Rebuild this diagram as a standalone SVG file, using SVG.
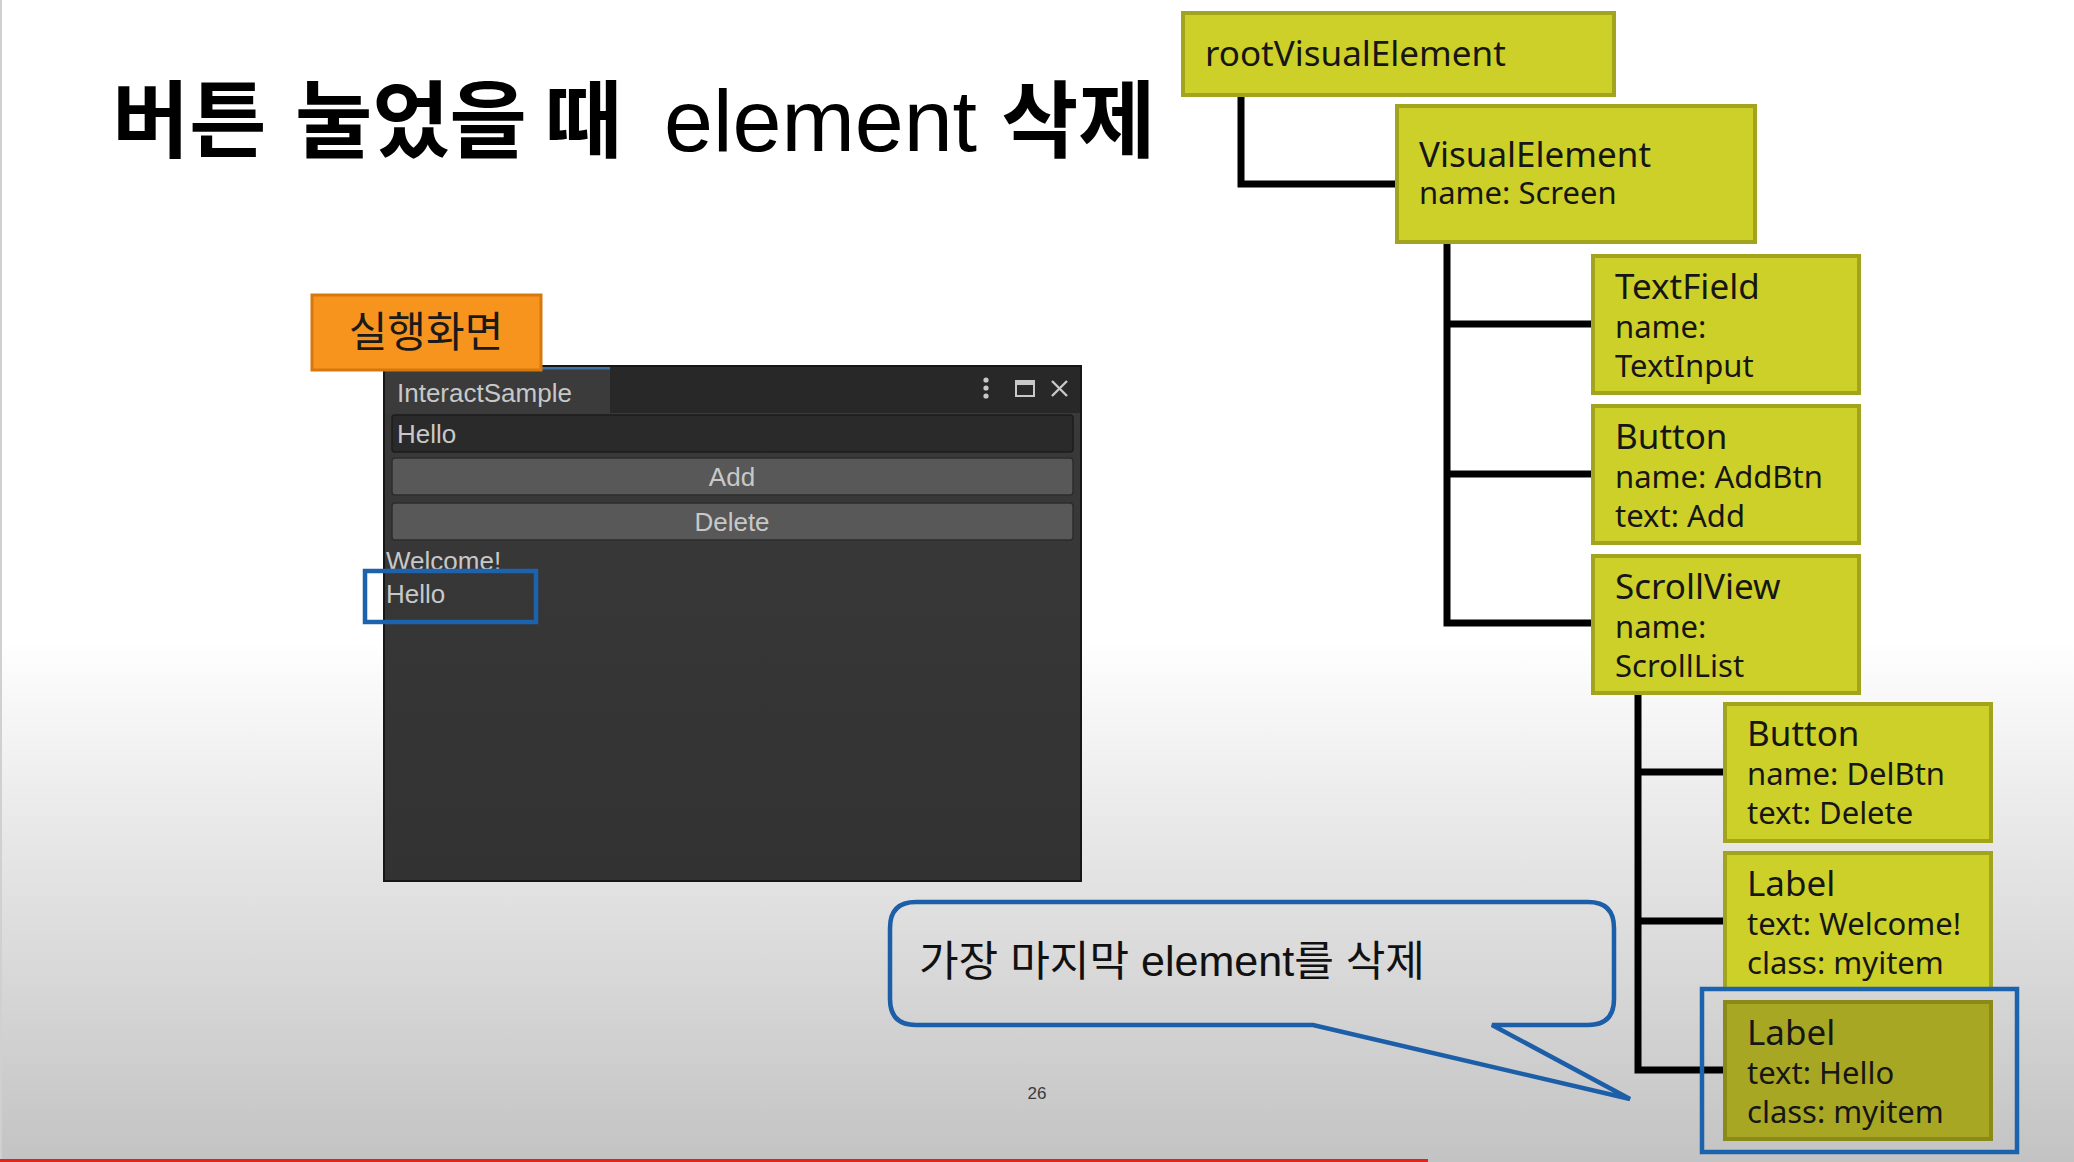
<svg xmlns="http://www.w3.org/2000/svg" width="2074" height="1162" viewBox="0 0 2074 1162">
  <defs>
    <linearGradient id="bg" x1="0" y1="0" x2="0" y2="1">
      <stop offset="0" stop-color="#ffffff"/>
      <stop offset="0.55" stop-color="#ffffff"/>
      <stop offset="0.7" stop-color="#eaeaea"/>
      <stop offset="1" stop-color="#c3c3c3"/>
    </linearGradient>
    <linearGradient id="winBody" x1="0" y1="0" x2="0" y2="1">
      <stop offset="0" stop-color="#3a3a3a"/>
      <stop offset="1" stop-color="#323232"/>
    </linearGradient>
    <style>
      .node rect { fill: #cdd028; stroke: #a1a41c; stroke-width: 4; }
      .node.selected rect { fill: #a8a724; stroke: #898a18; }
      .node text { font-family: "Noto Sans", "Liberation Sans", sans-serif; fill: #161616; }
      .node .head { font-size: 35px; }
      .node .sub { font-size: 31px; }
      .wire { fill: none; stroke: #000000; stroke-width: 7; stroke-linecap: square; stroke-linejoin: miter; }
      .hl { fill: none; stroke: #1c62ad; stroke-width: 4.5; }
      .ui { font-family: "Liberation Sans", Arial, sans-serif; font-size: 26px; fill: #c8c8c8; }
      .btn { fill: #585858; stroke: #2c2c2c; stroke-width: 1.5; }
      .ko { font-family: "Noto Sans CJK KR", sans-serif; }
    </style>
  </defs>

  <!-- slide background -->
  <rect x="0" y="0" width="2074" height="1162" fill="url(#bg)"/>
  <rect x="0" y="0" width="2" height="1162" fill="#cfcfd4"/>
  <rect x="0" y="1159" width="1428" height="3" fill="#e3221a"/>

  <!-- title, one word per text so spacing stays fixed -->
  <g id="title" fill="#000" font-size="84" font-weight="700">
    <text class="ko" x="112" y="151">버튼</text>
    <text class="ko" x="295" y="151">눌었을</text>
    <text class="ko" x="545" y="151">때</text>
    <text x="664" y="151" font-family="'Liberation Sans', Arial, sans-serif" font-weight="400" font-size="88">element</text>
    <text class="ko" x="1001" y="151">삭제</text>
  </g>

  <!-- runtime window -->
  <g id="window">
    <rect x="384" y="366" width="697" height="515" fill="url(#winBody)" stroke="#161616" stroke-width="2"/>
    <rect x="385" y="367" width="695" height="46" fill="#282828"/>
    <rect x="385" y="367" width="225" height="46" fill="#3b3b3b"/>
    <rect x="385" y="367" width="225" height="2.5" fill="#3d73a8"/>
    <text class="ui" x="397" y="402">InteractSample</text>
    <!-- window controls -->
    <g fill="#c8c8c8">
      <circle cx="986" cy="380" r="2.6"/>
      <circle cx="986" cy="388" r="2.6"/>
      <circle cx="986" cy="396" r="2.6"/>
    </g>
    <rect x="1016" y="381" width="18" height="15" fill="none" stroke="#c8c8c8" stroke-width="2"/>
    <rect x="1016" y="381" width="18" height="4" fill="#c8c8c8"/>
    <path d="M1052 381 L1067 396 M1067 381 L1052 396" stroke="#c8c8c8" stroke-width="2.4" fill="none"/>
    <!-- text field -->
    <rect x="392" y="415" width="681" height="37" rx="3" fill="#2a2a2a" stroke="#1c1c1c" stroke-width="1.5"/>
    <text class="ui" x="397" y="443">Hello</text>
    <!-- buttons -->
    <rect class="btn" x="392" y="458" width="681" height="37" rx="3"/>
    <text class="ui" x="732" y="486" text-anchor="middle">Add</text>
    <rect class="btn" x="392" y="503" width="681" height="37" rx="3"/>
    <text class="ui" x="732" y="531" text-anchor="middle">Delete</text>
    <!-- list items -->
    <text class="ui" x="386" y="570">Welcome!</text>
    <text class="ui" x="386" y="603">Hello</text>
  </g>

  <!-- caption tag -->
  <g id="tag">
    <rect x="312" y="295" width="229" height="75" fill="#f7941d" stroke="#d7780e" stroke-width="3"/>
    <text class="ko" x="426" y="347" text-anchor="middle" font-size="42" fill="#1a1a1a">실행화면</text>
  </g>

  <!-- highlight of the last list item -->
  <rect id="item-highlight" class="hl" x="365" y="571" width="171" height="51"/>

  <!-- tree connectors -->
  <g id="connectors">
    <path class="wire" d="M1241 95 V184 H1397"/>
    <path class="wire" d="M1447 242 V623 H1593 M1447 324 H1593 M1447 474 H1593"/>
    <path class="wire" d="M1638 693 V1070 H1725 M1638 772 H1725 M1638 921 H1725"/>
  </g>

  <!-- tree nodes -->
  <g id="node-root" class="node">
    <rect x="1183" y="13" width="431" height="82"/>
    <text class="head" x="1205" y="66">rootVisualElement</text>
  </g>
  <g id="node-screen" class="node">
    <rect x="1397" y="106" width="358" height="136"/>
    <text class="head" x="1419" y="167">VisualElement</text>
    <text class="sub" x="1419" y="204">name: Screen</text>
  </g>
  <g id="node-textfield" class="node">
    <rect x="1593" y="256" width="266" height="137"/>
    <text class="head" x="1615" y="299">TextField</text>
    <text class="sub" x="1615" y="338">name:</text>
    <text class="sub" x="1615" y="377">TextInput</text>
  </g>
  <g id="node-addbtn" class="node">
    <rect x="1593" y="406" width="266" height="137"/>
    <text class="head" x="1615" y="449">Button</text>
    <text class="sub" x="1615" y="488">name: AddBtn</text>
    <text class="sub" x="1615" y="527">text: Add</text>
  </g>
  <g id="node-scrollview" class="node">
    <rect x="1593" y="556" width="266" height="137"/>
    <text class="head" x="1615" y="599">ScrollView</text>
    <text class="sub" x="1615" y="638">name:</text>
    <text class="sub" x="1615" y="677">ScrollList</text>
  </g>
  <g id="node-delbtn" class="node">
    <rect x="1725" y="704" width="266" height="137"/>
    <text class="head" x="1747" y="746">Button</text>
    <text class="sub" x="1747" y="785">name: DelBtn</text>
    <text class="sub" x="1747" y="824">text: Delete</text>
  </g>
  <g id="node-label-welcome" class="node">
    <rect x="1725" y="853" width="266" height="136"/>
    <text class="head" x="1747" y="896">Label</text>
    <text class="sub" x="1747" y="935">text: Welcome!</text>
    <text class="sub" x="1747" y="974">class: myitem</text>
  </g>
  <g id="node-label-hello" class="node selected">
    <rect x="1725" y="1002" width="266" height="137"/>
    <text class="head" x="1747" y="1045">Label</text>
    <text class="sub" x="1747" y="1084">text: Hello</text>
    <text class="sub" x="1747" y="1123">class: myitem</text>
  </g>
  <rect id="node-highlight" class="hl" x="1702" y="989" width="315" height="163"/>

  <!-- speech bubble -->
  <g id="callout">
    <path d="M916 902 H1588 Q1614 902 1614 928 V999 Q1614 1025 1588 1025 H1492 L1630 1099 L1313 1025 H916 Q890 1025 890 999 V928 Q890 902 916 902 Z" fill="none" stroke="#1c5ea8" stroke-width="4.5" stroke-linejoin="miter"/>
    <text x="919" y="976" font-family="'Liberation Sans', 'Noto Sans CJK KR', sans-serif" font-size="42" fill="#111" textLength="506" lengthAdjust="spacingAndGlyphs">가장 마지막 element를 삭제</text>
  </g>

  <!-- page number -->
  <text id="page-number" x="1037" y="1099" text-anchor="middle" font-family="'Liberation Sans', Arial, sans-serif" font-size="17" fill="#3a3a3a">26</text>
</svg>
